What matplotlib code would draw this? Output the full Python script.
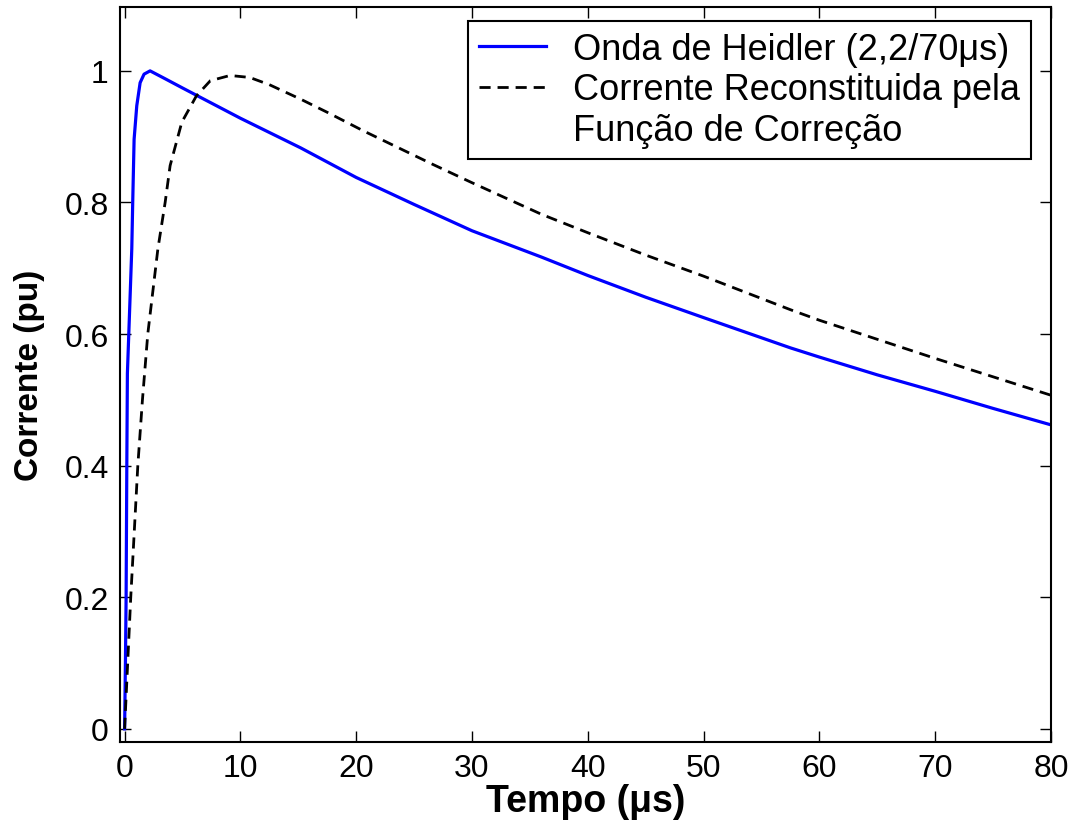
import numpy as np
import matplotlib.pyplot as plt
from matplotlib.lines import Line2D

plt.rcParams['font.family'] = ['Liberation Sans', 'DejaVu Sans']

# Heidler wave (2,2/70 us)
t_heidler = [0, 0.07, 0.13, 0.19, 0.24, 0.36, 0.62, 0.70, 0.82, 1.05, 1.34, 1.68, 2.2,
             3.5, 5, 7.5, 10, 15.2, 20, 25, 30, 36, 40, 45, 50, 57.5, 60, 65, 70, 75, 80]
i_heidler = [0, 0.1, 0.2, 0.4, 0.54, 0.6, 0.73, 0.8, 0.896, 0.947, 0.982, 0.995, 1.0,
             0.988, 0.974, 0.951, 0.928, 0.883, 0.838, 0.797, 0.757, 0.717, 0.689, 0.656,
             0.625, 0.579, 0.565, 0.538, 0.513, 0.487, 0.462]

# reconstructed current (correction function)
t_recon = [0, 0.53, 1.14, 1.54, 2.0, 2.87, 3.5, 3.93, 4.94, 6.2, 7.4, 9.1, 10.8, 12.5,
           15.2, 17.5, 20.6, 26.6, 30, 36, 40, 45, 50, 57.5, 60, 65, 70, 75, 80]
i_recon = [0, 0.2, 0.4, 0.5, 0.6, 0.729, 0.8, 0.856, 0.922, 0.962, 0.985, 0.993, 0.99,
           0.979, 0.957, 0.937, 0.909, 0.858, 0.83, 0.782, 0.754, 0.72, 0.688, 0.637,
           0.621, 0.592, 0.563, 0.535, 0.507]

fig = plt.figure(figsize=(10.77, 8.29), dpi=100)
ax = fig.add_axes([0.1114, 0.1037, 0.8645, 0.8866])

l1, = ax.plot(t_heidler, i_heidler, color='#0000ff', lw=2.3)
l2, = ax.plot(t_recon, i_recon, color='black', lw=2.0, ls=(0, (4, 2.5)))

ax.set_xlim(-0.4, 80)
ax.set_ylim(-0.02, 1.097)
ax.set_xticks(np.arange(0, 81, 10))
ax.set_yticks([0, 0.2, 0.4, 0.6, 0.8, 1])
ax.set_yticklabels(['0', '0.2', '0.4', '0.6', '0.8', '1'])
ax.tick_params(direction='in', length=8, width=1, labelsize=23, top=True, right=True,
               colors='black', pad=8)
for s in ax.spines.values():
    s.set_linewidth(1.5)

ax.set_xlabel('Tempo (μs)', fontsize=27, fontweight='bold', labelpad=0)
ax.set_ylabel('Corrente (pu)', fontsize=24, fontweight='bold', labelpad=14)

# second label wraps onto a third row, handle stays on the first of them
blank = Line2D([], [], color='none')
leg = ax.legend([l1, l2, blank],
                ['Onda de Heidler (2,2/70μs)', 'Corrente Reconstituida pela',
                 'Função de Correção'],
                loc='upper right', fontsize=26, frameon=True, fancybox=False,
                edgecolor='black', framealpha=1, handlelength=1.85, handletextpad=0.75,
                labelspacing=0.15, borderpad=0.3, borderaxespad=0,
                bbox_to_anchor=(0.9785, 0.981))
leg.get_frame().set_linewidth(1.5)

fig.savefig('out.png', dpi=100)
